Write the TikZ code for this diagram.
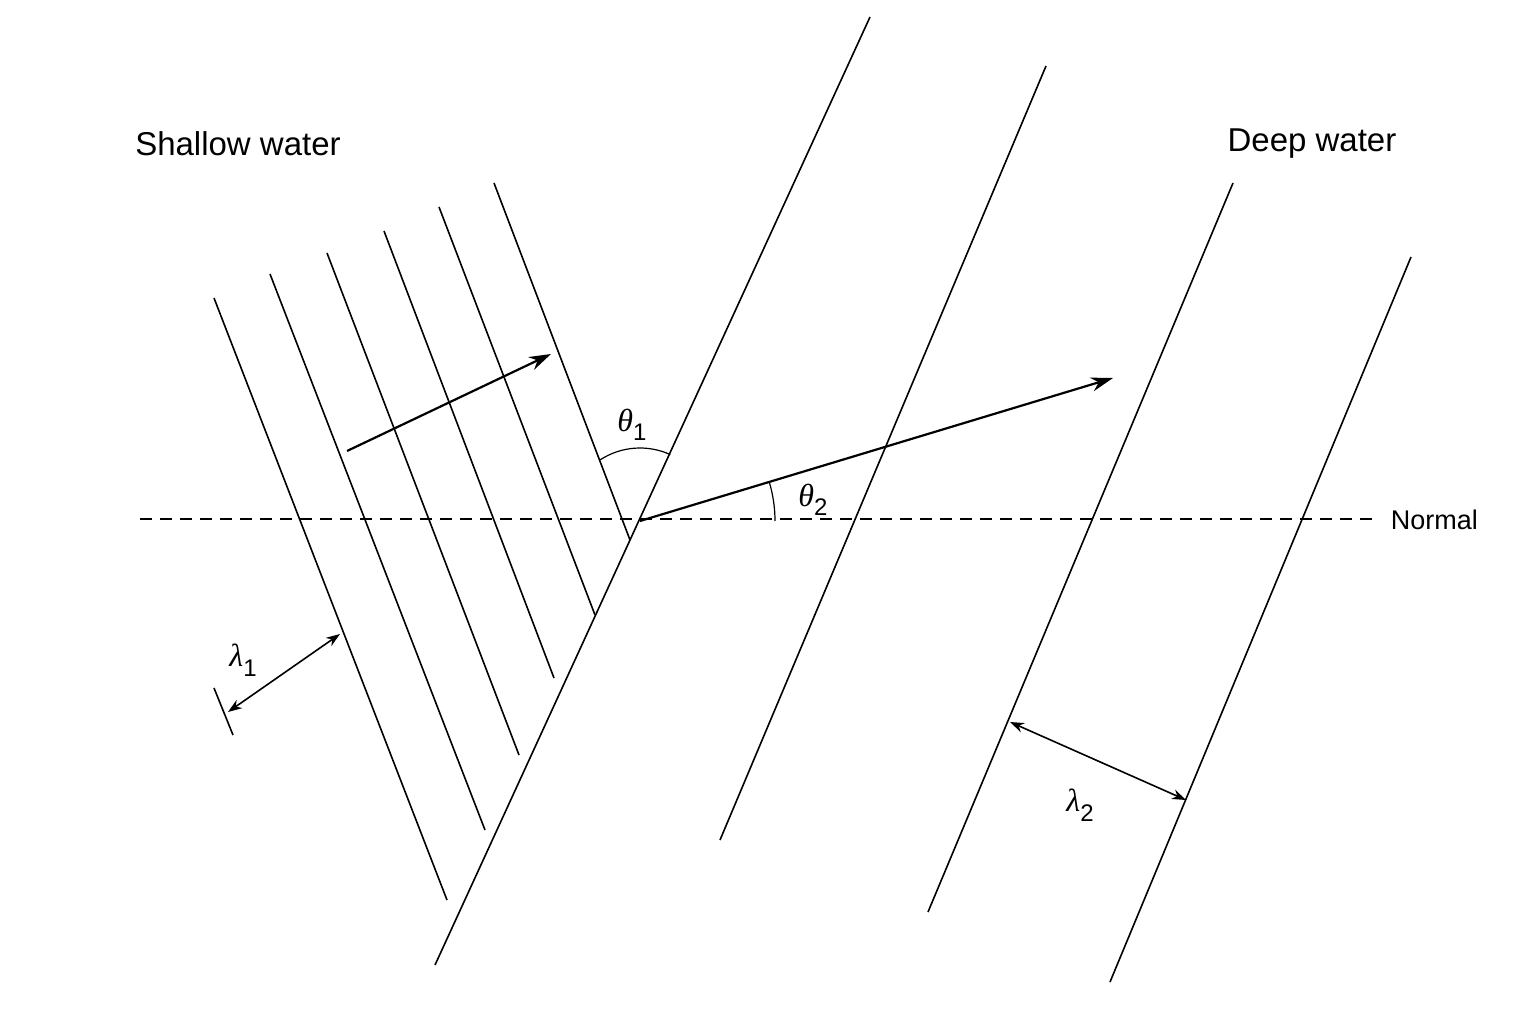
\documentclass[tikz,border=0pt]{standalone}
\usepackage{fontspec}
\setmainfont{Liberation Sans}
\newfontfamily\grk{Liberation Serif}
\usetikzlibrary{arrows.meta}
\newcommand{\gsym}[2]{{\grk\itshape #1}\raisebox{-0.3em}{\fontsize{24}{28}\selectfont #2}}
\begin{document}
\begin{tikzpicture}[x=1pt,y=-1pt,line width=1.6pt,
  wave/.style={line width=1.6pt},
  ray/.style={line width=2.2pt,-{Stealth[length=22pt,width=14pt]}},
  span/.style={line width=1.6pt,{Stealth[length=14pt,width=10pt]}-{Stealth[length=14pt,width=10pt]}},
  lbl/.style={inner sep=0pt,font=\fontsize{33}{38}\selectfont},
  sym/.style={inner sep=0pt,font=\fontsize{32}{36}\selectfont}]
\useasboundingbox (0,0) rectangle (1536,1024);
% wavefronts
\draw[wave] (870,17)--(435,965);
\draw[wave] (1046,66)--(720,840);
\draw[wave] (1233,183)--(928,912);
\draw[wave] (1411,257)--(1110,982);
\draw[wave] (214,298)--(447,900);
\draw[wave] (270,274)--(485,830);
\draw[wave] (327,253)--(519,755);
\draw[wave] (384,231)--(554,678);
\draw[wave] (439,207)--(595,615);
\draw[wave] (494,183)--(630,540);
\draw[wave] (214,688)--(233,735);
% normal
\draw[dashed,dash pattern=on 12pt off 8pt] (140,519)--(1375,519);
\node[lbl,anchor=west,font=\fontsize{27}{30}\selectfont] (normal) at (1390,520) {Normal};
% rays
\coordinate (a1) at (347,451); \coordinate (b1) at (551,354);
\coordinate (o) at (640,521); \coordinate (b2) at (1113,378);
\draw[ray] (a1)--(b1);
\draw[ray] (o)--(b2);
% angles
\draw[line width=1.2pt] ([shift={(-123:73)}]o) arc[start angle=-123,end angle=-65.5,radius=73];
\draw[line width=1.2pt] ([shift={(0:135)}]o) arc[start angle=0,end angle=-16.8,radius=135];
\node[sym] (t1) at (632,425) {\gsym{θ}{1}};
\node[sym] (t2) at (813,500) {\gsym{θ}{2}};
% wavelengths
\coordinate (l1a) at (228,712); \coordinate (l1b) at (340,634);
\coordinate (l2a) at (1010,722); \coordinate (l2b) at (1186,800);
\draw[span] (l1a)--(l1b);
\draw[span] (l2a)--(l2b);
\node[sym] (lam1) at (243,660) {\gsym{λ}{1}};
\node[sym] (lam2) at (1080,805) {\gsym{λ}{2}};
% labels
\node[lbl] (shallow) at (238,144) {Shallow water};
\node[lbl] (deep) at (1312,144) {Deep water};
\end{tikzpicture}
\end{document}
